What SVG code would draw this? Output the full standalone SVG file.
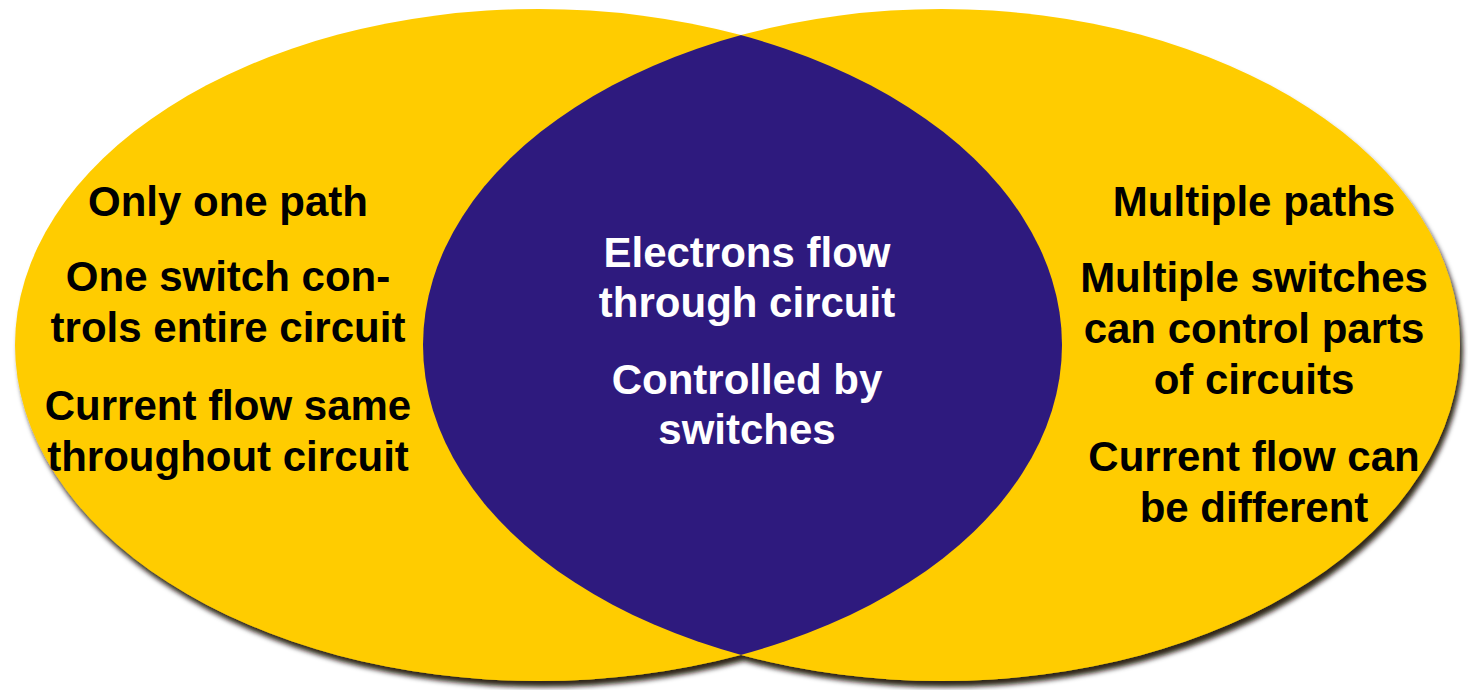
<svg xmlns="http://www.w3.org/2000/svg" width="1468" height="690" viewBox="0 0 1468 690">
  <defs>
    <filter id="shadow" x="-5%" y="-5%" width="110%" height="115%">
      <feDropShadow dx="3" dy="6" stdDeviation="2.5" flood-color="#141000" flood-opacity="0.9"/>
    </filter>
    <clipPath id="clipLeft">
      <ellipse cx="538.5" cy="345" rx="523.5" ry="336"/>
    </clipPath>
    <style>
      .set { fill: #FFCC00; }
      .lens { fill: #2E1A7E; }
      .dark { font-family: "Liberation Sans", Arial, sans-serif; font-weight: bold; font-size: 42px; fill: #000; text-anchor: middle; }
      .light { font-family: "Liberation Sans", Arial, sans-serif; font-weight: bold; font-size: 42px; fill: #fff; text-anchor: middle; }
    </style>
  </defs>
  <rect width="1468" height="690" fill="#fff"/>
  <g id="shapes" filter="url(#shadow)">
    <ellipse class="set" cx="538.5" cy="345" rx="523.5" ry="336"/>
    <ellipse class="set" cx="941.5" cy="345" rx="518.5" ry="336"/>
  </g>
  <g id="intersection">
    <ellipse class="lens" cx="941.5" cy="345" rx="518.5" ry="336" clip-path="url(#clipLeft)"/>
    <text class="light" x="747" y="267">Electrons flow</text>
    <text class="light" x="747" y="317">through circuit</text>
    <text class="light" x="747" y="394">Controlled by</text>
    <text class="light" x="747" y="444">switches</text>
  </g>
  <g id="series">
    <text class="dark" x="228" y="216">Only one path</text>
    <text class="dark" x="228" y="291">One switch con-</text>
    <text class="dark" x="228" y="342">trols entire circuit</text>
    <text class="dark" x="228" y="420">Current flow same</text>
    <text class="dark" x="228" y="471">throughout circuit</text>
  </g>
  <g id="parallel">
    <text class="dark" x="1254" y="216">Multiple paths</text>
    <text class="dark" x="1254" y="292">Multiple switches</text>
    <text class="dark" x="1254" y="343">can control parts</text>
    <text class="dark" x="1254" y="394">of circuits</text>
    <text class="dark" x="1254" y="471">Current flow can</text>
    <text class="dark" x="1254" y="522">be different</text>
  </g>
  <g id="connectors"/>
</svg>
